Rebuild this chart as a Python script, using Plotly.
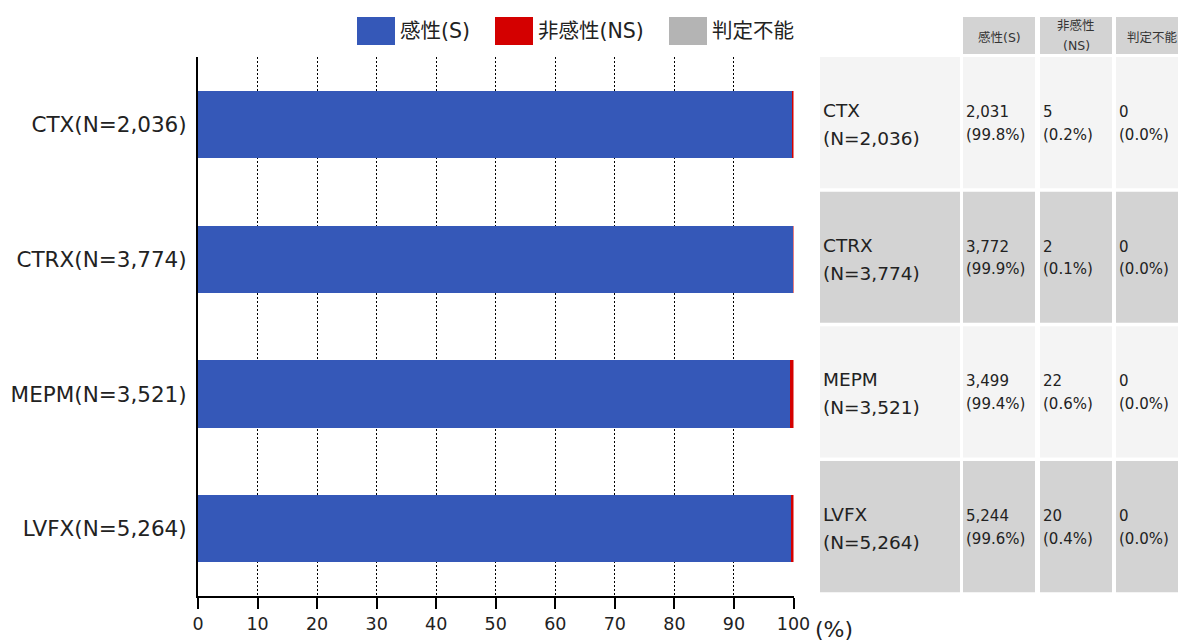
import plotly.graph_objects as go

# ---------------- data ----------------
drugs = ["CTX", "CTRX", "MEPM", "LVFX"]
totals = [2036, 3774, 3521, 5264]
series_names = ["感性(S)", "非感性(NS)", "判定不能"]
header_labels = ["感性(S)", "非感性<br>(NS)", "判定不能"]
count_s = [2031, 3772, 3499, 5244]
count_ns = [5, 2, 22, 20]
count_u = [0, 0, 0, 0]
pct_s = [99.8, 99.9, 99.4, 99.6]
pct_ns = [0.2, 0.1, 0.6, 0.4]
pct_u = [0.0, 0.0, 0.0, 0.0]
x_ticks = [0, 10, 20, 30, 40, 50, 60, 70, 80, 90, 100]

# ---------------- style ----------------
colors = ["#3558B8", "#D40000", "#B4B4B4"]
FONT = "DejaVu Sans, Noto Sans CJK JP, sans-serif"
W, H = 1178, 641
ML, MR, MT, MB = 198, 0, 57, 45
PW = W - ML - MR
PH = H - MT - MB


def fx(px):
    return (px - ML) / PW


def fy(py):
    return (H - MB - py) / PH


def fmt(n):
    return f"{n:,}"


cats = [f"{d}(N={fmt(n)})" for d, n in zip(drugs, totals)]

fig = go.Figure()
for name, counts, col in zip(series_names, [count_s, count_ns, count_u], colors):
    vals = [c / t * 100 for c, t in zip(counts, totals)]
    fig.add_trace(go.Bar(
        y=cats, x=vals, name=name, orientation="h",
        marker=dict(color=col, line=dict(width=0)),
        showlegend=False, hoverinfo="x+y+name",
    ))

shapes = []
annots = []

# custom legend
leg_box_x = [357, 495, 669]
for name, col, bx in zip(series_names, colors, leg_box_x):
    shapes.append(dict(type="rect", xref="paper", yref="paper",
                       x0=fx(bx), x1=fx(bx + 38), y0=fy(45), y1=fy(17),
                       fillcolor=col, line=dict(width=0)))
    annots.append(dict(xref="paper", yref="paper", x=fx(bx + 41), y=fy(31),
                       text=name, showarrow=False, xanchor="left", yanchor="middle",
                       font=dict(family=FONT, size=20.5, color="#222")))

# table
col_x = [(820, 960), (963, 1035), (1040, 1112), (1116, 1188)]
row_colors = ["#F4F4F4", "#D3D3D3"]
# header
for (x0, x1), lab in zip(col_x[1:], header_labels):
    shapes.append(dict(type="rect", xref="paper", yref="paper",
                       x0=fx(x0), x1=fx(x1), y0=fy(54), y1=fy(17),
                       fillcolor="#D3D3D3", line=dict(width=0), layer="below"))
    lines = lab.split("<br>")
    ys = [37] if len(lines) == 1 else [25, 45]
    for ln, yy in zip(lines, ys):
        annots.append(dict(xref="paper", yref="paper", x=fx((x0 + x1) / 2), y=fy(yy),
                           text=ln, showarrow=False, xanchor="center", yanchor="middle",
                           font=dict(family=FONT, size=12.5, color="#333")))

for i, d in enumerate(drugs):
    rc = row_colors[i % 2]
    for (x0, x1) in col_x:
        shapes.append(dict(type="rect", xref="paper", yref="y",
                           x0=fx(x0), x1=fx(x1), y0=i - 0.502, y1=i + 0.472,
                           fillcolor=rc, line=dict(width=0), layer="below"))
    cell_lines = [
        (d, f"(N={fmt(totals[i])})"),
        (fmt(count_s[i]), f"({pct_s[i]:.1f}%)"),
        (fmt(count_ns[i]), f"({pct_ns[i]:.1f}%)"),
        (fmt(count_u[i]), f"({pct_u[i]:.1f}%)"),
    ]
    for j, ((x0, x1), (l1, l2)) in enumerate(zip(col_x, cell_lines)):
        size = 18.5 if j == 0 else 15
        shifts = (14, -14) if j == 0 else (12.5, -10)
        for t, sh in zip((l1, l2), shifts):
            annots.append(dict(xref="paper", yref="y", x=fx(x0 + 0.5), y=cats[i],
                               yshift=sh, text=t, showarrow=False,
                               xanchor="left", yanchor="middle",
                               font=dict(family=FONT, size=size, color="#222")))

# (%) unit label
annots.append(dict(xref="paper", yref="paper", x=fx(834), y=fy(629),
                   text="(%)", showarrow=False, xanchor="center", yanchor="middle",
                   font=dict(family=FONT, size=22, color="#222")))

fig.update_layout(
    width=W, height=H, autosize=False,
    margin=dict(l=ML, r=MR, t=MT, b=MB, pad=0, autoexpand=False),
    paper_bgcolor="white", plot_bgcolor="white",
    barmode="stack", bargap=0.5,
    shapes=shapes, annotations=annots,
    font=dict(family=FONT, color="#222"),
    xaxis=dict(
        domain=[0, fx(793.5)], range=[0, 100], automargin=False,
        tickvals=x_ticks, ticktext=[str(v) for v in x_ticks],
        showgrid=True, gridcolor="black", griddash="2px,2px", gridwidth=1,
        showline=True, linecolor="black", linewidth=2,
        ticks="outside", ticklen=11, tickwidth=2, tickcolor="black",
        tickfont=dict(family=FONT, size=17.5, color="#222"),
        zeroline=False, fixedrange=True,
    ),
    yaxis=dict(
        categoryorder="array", categoryarray=cats, autorange="reversed",
        automargin=False,
        showline=True, linecolor="black", linewidth=2,
        ticks="", ticklabelstandoff=5,
        tickfont=dict(family=FONT, size=21.5, color="#222"),
        showgrid=False, zeroline=False, fixedrange=True,
    ),
)

fig.write_html(
    "out.html",
    config={"responsive": False, "displayModeBar": False},
    post_script="document.body.style.margin='0';document.body.style.overflow='hidden';",
)
